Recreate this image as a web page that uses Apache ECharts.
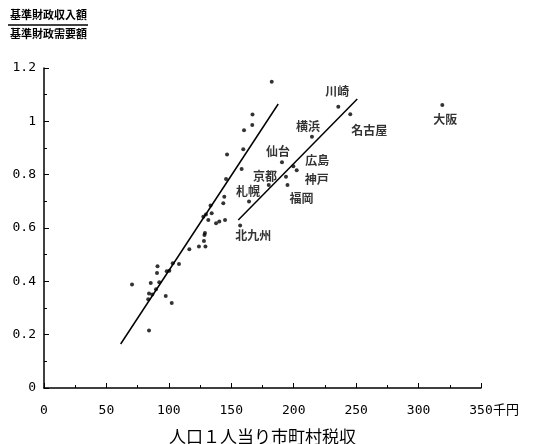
<!DOCTYPE html>
<html>
<head>
<meta charset="utf-8">
<script src="https://cdn.jsdelivr.net/npm/echarts@6/dist/echarts.min.js"></script>
<style>
  html, body { margin: 0; padding: 0; background: #fff; }
  #main { width: 538px; height: 444px; }
</style>
</head>
<body>
<div id="main"></div>
<script>
// 軸の目盛
var xTicks = [0, 50, 100, 150, 200, 250, 300, 350];
var yTicks = [0, 0.2, 0.4, 0.6, 0.8, 1, 1.2];

// 市町村（ラベルなし）: [税収(千円), 財政力指数]
var towns = [
    [70.5, 0.388], [84.1, 0.216], [90.9, 0.457], [90.5, 0.431], [85.5, 0.394],
    [92.3, 0.397], [84.1, 0.354], [86.7, 0.351], [83.5, 0.333], [89.7, 0.370],
    [97.5, 0.345], [102.3, 0.319], [103.1, 0.468], [108.1, 0.465], [98.3, 0.438],
    [100.4, 0.440], [116.4, 0.520], [124.1, 0.531], [129.3, 0.531], [128.1, 0.551],
    [128.5, 0.574], [128.9, 0.581], [137.8, 0.618], [140.4, 0.624], [145.0, 0.630],
    [131.6, 0.630], [134.3, 0.655], [129.7, 0.651], [127.6, 0.642], [133.4, 0.684],
    [143.6, 0.693], [144.4, 0.717], [145.8, 0.784], [158.3, 0.821], [146.6, 0.876],
    [159.6, 0.895], [160.2, 0.967], [166.8, 0.986], [167.0, 1.026], [182.4, 1.148],
    [180.0, 0.761]
];

// 大都市
var cityNames = ['川崎', '名古屋', '横浜', '大阪', '仙台', '広島', '神戸', '京都', '福岡', '札幌', '北九州'];
var cityX = [235.7, 245.3, 214.6, 319.0, 190.6, 199.7, 202.4, 193.8, 195.0, 164.2, 157.1];
var cityY = [1.055, 1.027, 0.942, 1.061, 0.847, 0.832, 0.817, 0.792, 0.761, 0.699, 0.609];

// 回帰直線の両端
var trendTowns = [[61.4, 0.165], [187.6, 1.065]];
var trendCities = [[155.6, 0.630], [250.9, 1.084]];

// ラベル位置（点からのずれ, px）
var labelOffset = {
    '川崎': [-1, -15], '名古屋': [19, 16], '横浜': [-4, -10], '大阪': [3, 14],
    '仙台': [-4, -11], '広島': [24, -6], '神戸': [20, 9], '京都': [-21, 0],
    '福岡': [14, 13], '札幌': [-1, -10], '北九州': [13, 10]
};

var monoFont = '"DejaVu Sans Mono", monospace';
var cjkFont = '"Noto Sans CJK JP", sans-serif';

var myChart = echarts.init(document.getElementById('main'));

var cityData = [];
for (var i = 0; i < cityNames.length; i++) {
    cityData.push({
        name: cityNames[i],
        value: [cityX[i], cityY[i]],
        label: { offset: labelOffset[cityNames[i]] }
    });
}

var option = {
    animation: false,
    backgroundColor: '#fff',
    grid: { left: 44, right: 57, top: 68, bottom: 56, outerBoundsMode: 'none' },
    xAxis: {
        type: 'value',
        min: xTicks[0],
        max: xTicks[xTicks.length - 1],
        interval: 50,
        name: '人口１人当り市町村税収',
        nameLocation: 'middle',
        nameGap: 40,
        nameTextStyle: { fontFamily: cjkFont, fontSize: 17, color: '#000' },
        axisLine: { lineStyle: { color: '#000', width: 1.5 } },
        axisTick: { inside: true, length: 5, lineStyle: { color: '#000' } },
        minorTick: { show: true, splitNumber: 2, length: 3, lineStyle: { color: '#000' } },
        axisLabel: { margin: 16, fontFamily: monoFont, fontSize: 13, color: '#000' },
        splitLine: { show: false }
    },
    yAxis: {
        type: 'value',
        min: yTicks[0],
        max: yTicks[yTicks.length - 1],
        interval: 0.2,
        axisLine: { show: true, lineStyle: { color: '#000', width: 1.5 } },
        axisTick: { show: true, inside: true, length: 5, lineStyle: { color: '#000' } },
        minorTick: { show: true, splitNumber: 2, length: 3, lineStyle: { color: '#000' } },
        axisLabel: { margin: 8, fontFamily: monoFont, fontSize: 13, color: '#000' },
        splitLine: { show: false }
    },
    graphic: [
        {
            type: 'text', left: 10, top: 9,
            style: { text: '基準財政収入額', font: 'bold 11px ' + cjkFont, fill: '#000' }
        },
        {
            type: 'line', shape: { x1: 8, y1: 25, x2: 88, y2: 25 },
            style: { stroke: '#000', lineWidth: 1.5 }
        },
        {
            type: 'text', left: 493, top: 403,
            style: { text: '千円', font: '13px ' + cjkFont, fill: '#000' }
        },
        {
            type: 'text', left: 10, top: 28,
            style: { text: '基準財政需要額', font: 'bold 11px ' + cjkFont, fill: '#000' }
        }
    ],
    series: [
        {
            name: '市町村',
            type: 'scatter',
            symbolSize: 4,
            itemStyle: { color: '#000' },
            data: towns
        },
        {
            name: '大都市',
            type: 'scatter',
            symbolSize: 4,
            itemStyle: { color: '#000' },
            label: {
                show: true,
                position: 'inside',
                formatter: '{b}',
                fontFamily: cjkFont,
                fontSize: 12,
                fontWeight: 'bold',
                color: '#000'
            },
            data: cityData
        },
        {
            name: '回帰1',
            type: 'line',
            symbol: 'none',
            lineStyle: { color: '#000', width: 1.5 },
            data: trendTowns
        },
        {
            name: '回帰2',
            type: 'line',
            symbol: 'none',
            lineStyle: { color: '#000', width: 1.5 },
            data: trendCities
        }
    ]
};

myChart.setOption(option);
</script>
</body>
</html>
